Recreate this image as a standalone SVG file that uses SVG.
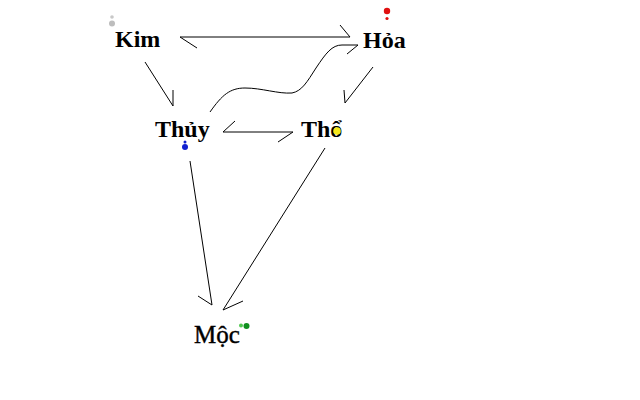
<svg xmlns="http://www.w3.org/2000/svg" width="640" height="400" viewBox="0 0 640 400">
<style>
.lbl{font-family:"Liberation Serif","Times New Roman",serif;font-weight:bold;font-size:24px;fill:#000}
.reg{font-weight:normal;font-size:25px;stroke:#000;stroke-width:0.4}
.ln{fill:none;stroke:#000;stroke-width:1}
</style>
<rect width="640" height="400" fill="#fff"/>
<g id="connectors">
<g id="kim-hoa"><path class="ln" d="M197,48 L180,37 L350,37 L340,25"/></g>
<g id="thuy-hoa"><path class="ln" d="M210,112 C222,95 230,88 245,88 C262,88 278,94 292,93 C302,91 307,82 316,68 C326,53 332,45 342,45 L358,45 L347,54"/></g>
<g id="kim-thuy"><path class="ln" d="M145,62 L173,106 L173,90"/></g>
<g id="hoa-tho"><path class="ln" d="M373,67 L345,103 L344,90"/></g>
<g id="tho-thuy"><path class="ln" d="M235,121 L223,132 L293,132 L278,142"/></g>
<g id="thuy-moc"><path class="ln" d="M190,161 L212,305 L198,296"/></g>
<g id="tho-moc"><path class="ln" d="M325,148 L223,310 L243,301"/></g>
</g>
<g id="kim">
<circle cx="112" cy="17" r="1.8" fill="#c8c8c8"/>
<circle cx="112" cy="23.5" r="3" fill="#bdbdbd"/>
<text class="lbl" x="115" y="47">Kim</text>
</g>
<g id="hoa">
<circle cx="387" cy="11" r="3.2" fill="#e01010"/>
<circle cx="387" cy="18.5" r="1.6" fill="#e01010"/>
<text class="lbl" x="363" y="48">Hỏa</text>
</g>
<g id="thuy">
<text class="lbl" x="155" y="137">Thủy</text>
<circle cx="185" cy="142" r="1.5" fill="#1020d0"/>
<circle cx="185" cy="147" r="3" fill="#1020d0"/>
</g>
<g id="tho">
<text class="lbl" x="301" y="137">Thổ</text>
<circle cx="337" cy="131" r="3.8" fill="#f5e81a"/>
</g>
<g id="moc">
<text class="lbl reg" x="194" y="343">Mộc</text>
<circle cx="241" cy="325.5" r="2" fill="#50c850"/>
<circle cx="246.5" cy="326" r="3" fill="#109020"/>
</g>
</svg>
